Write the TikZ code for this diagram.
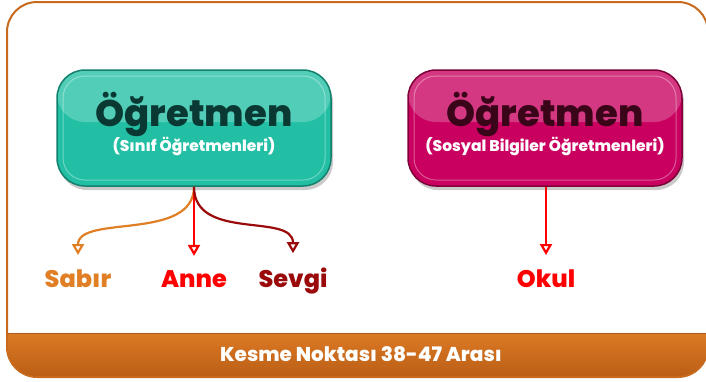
\documentclass[tikz,border=0pt]{standalone}
\usepackage{fontspec}
\setmainfont{Poppins}[BoldFont={Poppins ExtraBold}]
\usetikzlibrary{arrows.meta,shadows}
\definecolor{frameorange}{HTML}{C86A1E}
\definecolor{bandtop}{HTML}{DC7A24}
\definecolor{bandbot}{HTML}{BA5E16}
\definecolor{tealfill}{HTML}{22BFA5}
\definecolor{tealline}{HTML}{12806D}
\definecolor{tealtext}{HTML}{0A3934}
\definecolor{magfill}{HTML}{C9005F}
\definecolor{magline}{HTML}{7D0038}
\definecolor{magtext}{HTML}{3B0519}
\definecolor{sabirc}{HTML}{E07F25}
\definecolor{annec}{HTML}{FF0000}
\definecolor{sevgic}{HTML}{9A0A0A}
\begin{document}
\begin{tikzpicture}[x=1pt,y=-1pt,
    box/.style={rounded corners=28pt, minimum width=274pt, minimum height=116pt, line width=1.5pt,
      drop shadow={shadow xshift=2pt, shadow yshift=-4pt, opacity=.35, fill=black!60},
      path picture={\fill[white,opacity=.22] (path picture bounding box.north west) rectangle ([yshift=6pt]path picture bounding box.east);
        \draw[white,opacity=.35,line width=1pt,rounded corners=22pt] ([shift={(6pt,-6pt)}]path picture bounding box.north west) rectangle ([shift={(-6pt,6pt)}]path picture bounding box.south east);}},
    title/.style={anchor=base, inner sep=0pt, font=\bfseries\fontsize{37}{37}\selectfont},
    sub/.style={anchor=base, inner sep=0pt, text=white, font=\bfseries\fontsize{15.5}{15.5}\selectfont},
    word/.style={anchor=base, inner sep=0pt, font=\bfseries\fontsize{24}{24}\selectfont},
    arr/.style={draw, line width=2.2pt, -{Triangle[open,length=11pt,width=12pt]}, shorten >=14pt}]
  \useasboundingbox (0,0) rectangle (706,381);
  \begin{scope}
    \clip[rounded corners=30pt] (7,2) rectangle (708,377);
    \shade[top color=bandtop, bottom color=bandbot] (7,333) rectangle (708,377);
  \end{scope}
  \draw[frameorange, line width=2pt, rounded corners=30pt] (7,2) rectangle (708,377);
  \draw[frameorange!85!black, line width=1pt] (7,333) -- (708,333);
  \node[anchor=base, text=white, font=\bfseries\fontsize{20}{20}\selectfont] at (361,361) (kesme) {Kesme Noktası 38-47 Arası};

  \node[box, draw=tealline, fill=tealfill] at (194,128) (ogr1) {};
  \node[title, text=tealtext] at (194,126) (t1) {Öğretmen};
  \node[sub] at (194,151) (s1) {(Sınıf Öğretmenleri)};
  \node[box, draw=magline, fill=magfill] at (545,128) (ogr2) {};
  \node[title, text=magtext] at (545,126) (t2) {Öğretmen};
  \node[sub] at (545,151) (s2) {(Sosyal Bilgiler Öğretmenleri)};

  \node[word, text=sabirc] at (78,287) (sabir) {Sabır};
  \node[word, text=annec] at (194,287) (anne) {Anne};
  \node[word, text=sevgic] at (293,287) (sevgi) {Sevgi};
  \node[word, text=annec] at (546,287) (okul) {Okul};

  \path[arr, sabirc] (ogr1.south) .. controls +(0,55) and +(0,-55) .. (sabir.north);
  \path[arr, annec] (ogr1.south) -- (anne.north);
  \path[arr, sevgic] (ogr1.south) .. controls +(0,55) and +(0,-55) .. (sevgi.north);
  \path[arr, annec] (ogr2.south -| okul.north) -- (okul.north);
\end{tikzpicture}
\end{document}
